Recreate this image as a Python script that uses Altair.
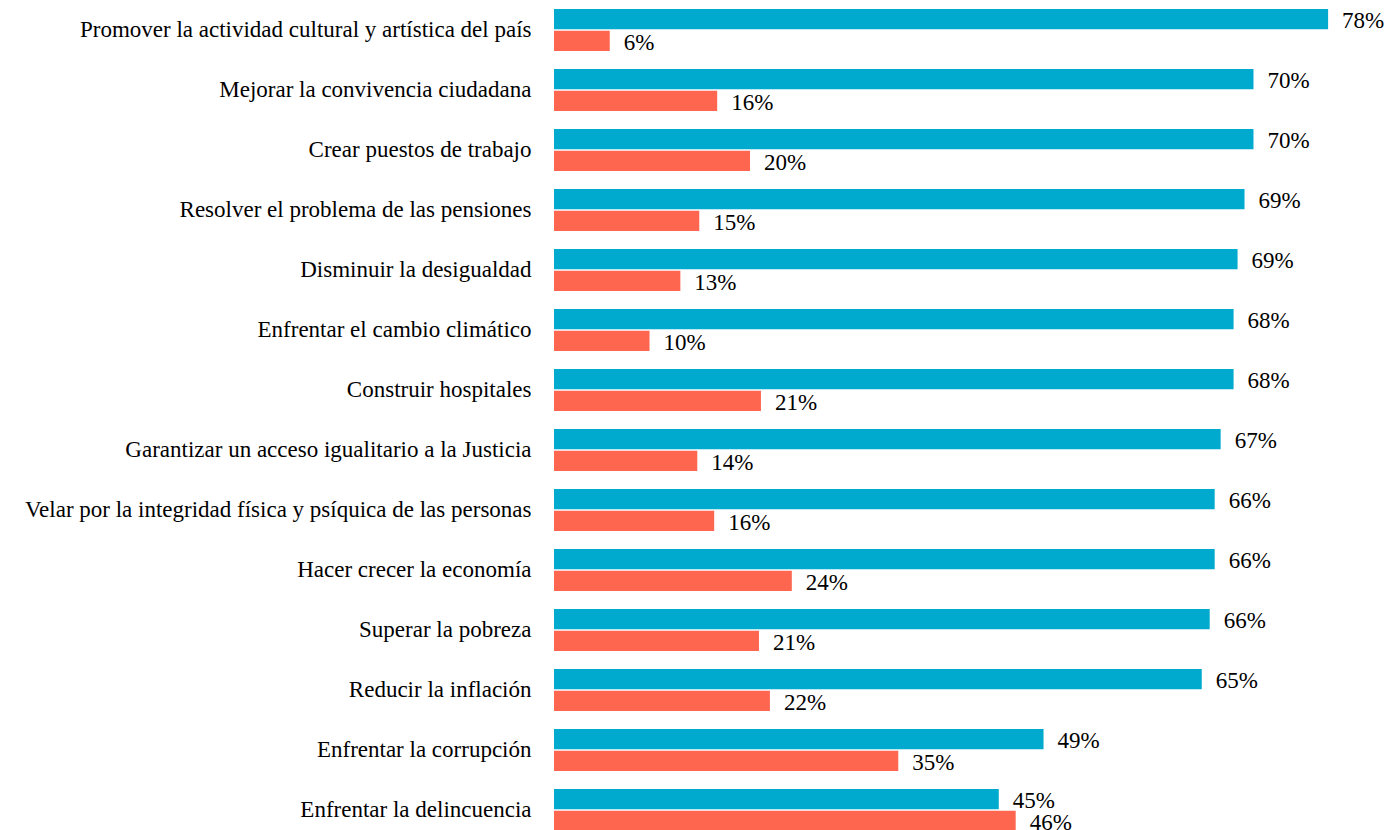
import altair as alt
import pandas as pd

categorias = [
    "Promover la actividad cultural y artística del país",
    "Mejorar la convivencia ciudadana",
    "Crear puestos de trabajo",
    "Resolver el problema de las pensiones",
    "Disminuir la desigualdad",
    "Enfrentar el cambio climático",
    "Construir hospitales",
    "Garantizar un acceso igualitario a la Justicia",
    "Velar por la integridad física y psíquica de las personas",
    "Hacer crecer la economía",
    "Superar la pobreza",
    "Reducir la inflación",
    "Enfrentar la corrupción",
    "Enfrentar la delincuencia",
]
serie_azul = [77.8, 70.3, 70.3, 69.4, 68.7, 68.3, 68.3, 67.0, 66.4, 66.4, 65.9, 65.1, 49.2, 44.7]
serie_roja = [5.6, 16.4, 19.7, 14.6, 12.7, 9.6, 20.8, 14.4, 16.1, 23.9, 20.6, 21.7, 34.6, 46.4]
series = ["Serie 1", "Serie 2"]
colores = ["#00AACF", "#FF6650"]

rows = []
for c, a, r in zip(categorias, serie_azul, serie_roja):
    rows.append({"cat": c, "serie": series[0], "valor": a})
    rows.append({"cat": c, "serie": series[1], "valor": r})
df = pd.DataFrame(rows)

FONT = "Liberation Serif"

y_enc = alt.Y(
    "cat:N",
    sort=categorias,
    scale=alt.Scale(range=[-8, 832], paddingInner=0.3, paddingOuter=0.15),
    axis=alt.Axis(
        title=None, labelFont=FONT, labelFontSize=23, labelColor="#000000",
        labelPadding=23, ticks=False, domain=False, labelLimit=0,
    ),
)
yoff = alt.YOffset("serie:N", sort=series, scale=alt.Scale(paddingInner=0.06))
x_enc = alt.X("valor:Q", scale=alt.Scale(domain=[0, 80]), axis=None)

bars = alt.Chart(df).mark_bar().encode(
    x=x_enc,
    y=y_enc,
    yOffset=yoff,
    color=alt.Color("serie:N", scale=alt.Scale(domain=series, range=colores), legend=None),
)

text = alt.Chart(df).transform_calculate(
    label="format(datum.valor, '.0f') + '%'"
).mark_text(
    align="left", baseline="middle", dx=14, dy=2, font=FONT, fontSize=23, color="#000000"
).encode(
    x=x_enc,
    y=y_enc,
    yOffset=yoff,
    text="label:N",
)

chart = (bars + text).properties(
    width=796,
    height=830,
    autosize=alt.AutoSizeParams(type="none"),
    padding={"left": 546, "top": 0, "right": 34, "bottom": 0},
).configure_view(stroke=None)

chart.save("out.html", embed_options={"renderer": "svg", "actions": False})
